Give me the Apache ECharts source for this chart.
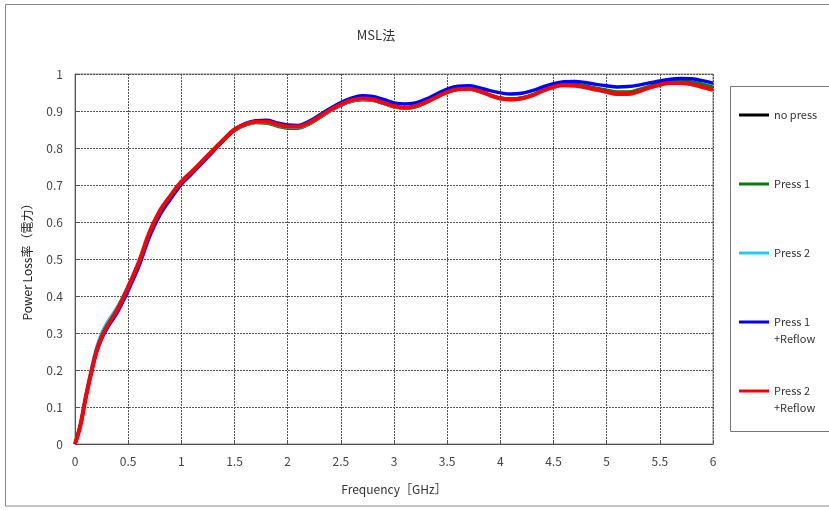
<!DOCTYPE html>
<html>
<head>
<meta charset="utf-8">
<script src="https://cdn.jsdelivr.net/npm/echarts@6/dist/echarts.min.js"></script>
<style>html,body{margin:0;padding:0;background:#fff;}#c{width:829px;height:510px;}</style>
</head>
<body>
<div id="c"></div>
<script>
const freq = [0,0.05,0.1,0.15,0.2,0.25,0.3,
 0.4,0.5,0.6,0.7,0.8,0.9,1.0,1.1,1.2,1.3,1.4,1.5,1.6,1.7,1.8,1.9,2.0,2.1,2.2,2.3,2.4,2.5,2.6,2.7,2.8,2.9,3.0,
 3.1,3.2,3.3,3.4,3.5,3.6,3.7,3.8,3.9,4.0,4.1,4.2,4.3,4.4,4.5,4.6,4.7,4.8,4.9,5.0,5.1,5.2,5.3,5.4,5.5,5.6,5.7,5.8,5.9,6.0];

const noPress = [0,0.05,0.126,0.194,0.254,0.294,0.322,
 0.367,0.424,0.489,0.566,0.626,0.667,0.704,0.733,0.763,0.792,0.821,0.847,0.862,0.869,0.868,0.861,0.855,0.855,0.865,0.882,0.9,0.915,0.926,0.931,0.929,0.921,0.912,
 0.908,0.912,0.923,0.937,0.95,0.958,0.959,0.953,0.943,0.935,0.932,0.935,0.943,0.955,0.965,0.97,0.97,0.966,0.96,0.955,0.949,0.949,0.955,0.965,0.973,0.978,0.979,0.975,0.969,0.961];

const press1 = [0,0.05,0.124,0.19,0.25,0.29,0.318,
 0.363,0.42,0.487,0.565,0.624,0.665,0.703,0.732,0.762,0.792,0.821,0.847,0.861,0.868,0.867,0.859,0.853,0.853,0.864,0.882,0.9,0.915,0.926,0.93,0.928,0.92,0.911,
 0.907,0.911,0.922,0.937,0.951,0.958,0.959,0.953,0.944,0.936,0.933,0.936,0.944,0.957,0.966,0.971,0.972,0.968,0.962,0.957,0.952,0.952,0.958,0.967,0.975,0.98,0.982,0.979,0.973,0.965];

const press2 = [0,0.052,0.13,0.2,0.26,0.3,0.328,
 0.372,0.428,0.49,0.568,0.627,0.668,0.705,0.734,0.764,0.793,0.822,0.848,0.862,0.869,0.869,0.862,0.856,0.856,0.866,0.883,0.901,0.916,0.927,0.931,0.929,0.92,0.911,
 0.907,0.911,0.922,0.937,0.95,0.958,0.959,0.952,0.942,0.933,0.93,0.933,0.941,0.954,0.963,0.968,0.967,0.962,0.956,0.95,0.945,0.945,0.952,0.962,0.97,0.975,0.975,0.971,0.964,0.956];

const press1Reflow = [0,0.05,0.123,0.188,0.245,0.284,0.312,
 0.357,0.415,0.48,0.56,0.62,0.663,0.702,0.731,0.761,0.791,0.822,0.85,0.866,0.874,0.875,0.868,0.862,0.861,0.872,0.889,0.907,0.923,0.935,0.941,0.939,0.931,0.922,
 0.919,0.922,0.932,0.946,0.959,0.967,0.968,0.963,0.955,0.949,0.946,0.948,0.955,0.965,0.974,0.979,0.98,0.977,0.972,0.968,0.965,0.966,0.97,0.976,0.981,0.986,0.988,0.987,0.982,0.975];

const press2Reflow = [0,0.05,0.125,0.19,0.25,0.29,0.318,
 0.365,0.425,0.492,0.572,0.632,0.672,0.709,0.737,0.766,0.795,0.824,0.85,0.864,0.871,0.871,0.864,0.858,0.858,0.868,0.885,0.903,0.918,0.929,0.934,0.931,0.922,0.913,
 0.909,0.913,0.924,0.938,0.951,0.959,0.96,0.954,0.943,0.934,0.931,0.934,0.942,0.955,0.965,0.97,0.969,0.964,0.958,0.952,0.946,0.946,0.953,0.963,0.971,0.976,0.976,0.972,0.965,0.957];

const seriesNames = ['no press','Press 1','Press 2','Press 1\n+Reflow','Press 2\n+Reflow'];
const seriesData = [noPress, press1, press2, press1Reflow, press2Reflow];
const colors = ['#000000','#0a7d0a','#22ccf5','#0000ff','#ff0000'];
const widths = [3,3,3,3.5,4];
const legendCenters = [115,184,253,322,391];

const FONT = '"Noto Sans CJK JP", "Noto Sans", sans-serif';
const chart = echarts.init(document.getElementById('c'));

const legends = seriesNames.map((n, i) => {
  const multi = n.indexOf('\n') >= 0;
  return {
    orient: 'vertical',
    left: 739,
    top: multi ? legendCenters[i] - 25.5 : legendCenters[i] - 7,
    padding: 0,
    itemWidth: 30,
    itemHeight: 3,
    icon: 'rect',
    data: [n],
    formatter: multi ? (name => '\n' + name) : (name => name),
    textStyle: {fontSize: 11, color: '#333', fontFamily: FONT, lineHeight: multi ? 17 : 14}
  };
});

chart.setOption({
  backgroundColor: '#fff',
  animation: false,
  color: colors,
  title: {
    text: 'MSL法',
    left: 371, top: 24, textAlign: 'center',
    textStyle: {fontSize: 13, fontWeight: 'normal', color: '#333', fontFamily: FONT}
  },
  legend: legends,
  graphic: [
    {type: 'rect', shape: {x: 5.5, y: 4.5, width: 830, height: 501.5}, style: {fill: 'none', stroke: '#888', lineWidth: 1}, silent: true, z: -1},
    {type: 'rect', shape: {x: 730.5, y: 86.5, width: 105, height: 345}, style: {fill: '#fff', stroke: '#777', lineWidth: 1}, silent: true, z: -1}
  ],
  grid: {left: 75, right: 116, top: 74, bottom: 66, show: true, borderColor: '#888', borderWidth: 1},
  xAxis: {
    type: 'value', min: 0, max: 6, interval: 0.5,
    name: 'Frequency［GHz］', nameLocation: 'middle', nameGap: 39,
    nameTextStyle: {fontSize: 12, color: '#333', fontFamily: FONT},
    axisLine: {lineStyle: {color: '#555', width: 1}},
    axisTick: {inside: true, length: 4, lineStyle: {color: '#555'}},
    axisLabel: {fontSize: 12, color: '#444', margin: 11, fontFamily: FONT},
    splitLine: {show: true, lineStyle: {type: [2, 1], color: '#555', width: 1}}
  },
  yAxis: {
    type: 'value', min: 0, max: 1, interval: 0.1,
    name: 'Power Loss率（電力）', nameLocation: 'middle', nameGap: 42,
    nameTextStyle: {fontSize: 12, color: '#222', fontFamily: FONT},
    axisLine: {show: true, lineStyle: {color: '#555', width: 1}},
    axisTick: {show: true, inside: true, length: 4, lineStyle: {color: '#555'}},
    axisLabel: {fontSize: 12, color: '#444', margin: 12, fontFamily: FONT},
    splitLine: {show: true, lineStyle: {type: [2, 1], color: '#555', width: 1}}
  },
  series: seriesNames.map((n, i) => ({
    name: n,
    type: 'line',
    smooth: 0.4,
    showSymbol: false,
    symbol: 'none',
    lineStyle: {color: colors[i], width: widths[i]},
    itemStyle: {color: colors[i]},
    data: freq.map((f, k) => [f, seriesData[i][k]])
  }))
});
</script>
</body>
</html>
